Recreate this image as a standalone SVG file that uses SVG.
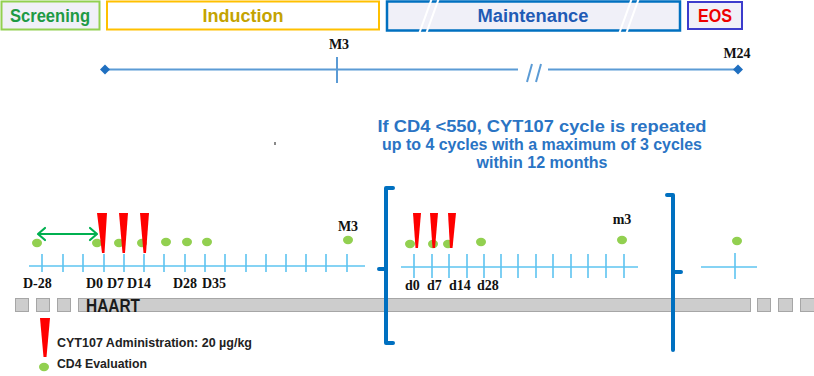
<svg xmlns="http://www.w3.org/2000/svg" width="814" height="376" viewBox="0 0 814 376">
<style>
.hdr{font-family:"Liberation Sans",Arial,sans-serif;font-weight:bold;font-size:17.5px;text-anchor:middle}
.lbl{font-family:"Liberation Serif","Times New Roman",serif;font-weight:bold;font-size:14px;fill:#111}
.tl{stroke:#5ec4f0;stroke-width:1.6;fill:none}
.top{stroke:#5b9bd5;stroke-width:2;fill:none}
.dot{fill:#92d050}
.mark{fill:#ff0000}
.brk{stroke:#0070c0;stroke-width:4;fill:none;stroke-linejoin:round;stroke-linecap:round}
.blue{font-family:"Liberation Sans",Arial,sans-serif;font-weight:bold;font-size:16.5px;fill:#2a74c4;text-anchor:middle}
.leg{font-family:"Liberation Sans",Arial,sans-serif;font-weight:bold;font-size:12px;fill:#222}
.bar{fill:#cdcdcd;stroke:#a6a6a6;stroke-width:1}
</style>
<rect width="814" height="376" fill="#ffffff"/>

<g id="phase-screening">
<rect x="1.5" y="1.5" width="98" height="28" fill="#f0f0f8" stroke="#92d050" stroke-width="2"/>
<text class="hdr" x="50" y="22" fill="#1e9a45" textLength="80" lengthAdjust="spacingAndGlyphs">Screening</text>
</g>
<g id="phase-induction">
<rect x="107" y="1.5" width="272" height="28" fill="#ffffff" stroke="#ffc000" stroke-width="2"/>
<text class="hdr" x="243" y="22" fill="#c4a300" textLength="81" lengthAdjust="spacingAndGlyphs">Induction</text>
</g>
<g id="phase-maintenance">
<rect x="387" y="1.5" width="293" height="29" fill="#f0f0f8" stroke="#0070c0" stroke-width="2.5"/>
<g stroke="#ffffff" stroke-width="2">
<line x1="432" y1="-2" x2="419" y2="34"/><line x1="439" y1="-2" x2="426" y2="34"/>
<line x1="632" y1="-2" x2="619" y2="34"/><line x1="639" y1="-2" x2="626" y2="34"/>
</g>
<text class="hdr" x="533" y="22" fill="#1f5bb5" textLength="111" lengthAdjust="spacingAndGlyphs">Maintenance</text>
</g>
<g id="phase-eos">
<rect x="688" y="2" width="54" height="27" fill="#f0f0f8" stroke="#3c3ccc" stroke-width="2"/>
<text class="hdr" x="715" y="22" fill="#ee0000" textLength="34" lengthAdjust="spacingAndGlyphs">EOS</text>
</g>

<g id="top-timeline">
<line class="top" x1="105" y1="69.5" x2="518" y2="69.5"/>
<line class="top" x1="548" y1="69.5" x2="738" y2="69.5"/>
<line class="top" x1="337" y1="57" x2="337" y2="83" stroke-width="1.6"/>
<line class="top" x1="532" y1="64" x2="527" y2="82" stroke-width="1.6"/>
<line class="top" x1="541" y1="64" x2="536" y2="82" stroke-width="1.6"/>
<path d="M105,64.5 L110,69.5 L105,74.5 L100,69.5 Z" fill="#1f6fc0"/>
<path d="M738,64.5 L743,69.5 L738,74.5 L733,69.5 Z" fill="#1f6fc0"/>
<text class="lbl" x="339" y="49" text-anchor="middle" font-size="13">M3</text>
<text class="lbl" x="737" y="58" text-anchor="middle" font-size="13">M24</text>
</g>

<rect x="274" y="142" width="2" height="3" fill="#8a8a8a"/>

<g id="repeat-note">
<text class="blue" x="542" y="132" textLength="329" lengthAdjust="spacingAndGlyphs">If CD4 &lt;550, CYT107 cycle is repeated</text>
<text class="blue" x="542" y="150" textLength="320" lengthAdjust="spacingAndGlyphs">up to 4 cycles with a maximum of 3 cycles</text>
<text class="blue" x="542" y="168" textLength="131" lengthAdjust="spacingAndGlyphs">within 12 months</text>
</g>

<g id="cycle1-timeline">
<line class="tl" x1="29" y1="266" x2="365" y2="266"/>
<path class="tl" d="M42,254V272M63,254V272M83,254V272M104,254V272M124,254V272M144,254V272M164,254V272M185,254V272M205,254V272M225,254V272M246,254V272M266,254V272M286,254V272M306,254V272M326,254V272M347,254V272"/>
<text class="lbl" x="23" y="288">D-28</text>
<text class="lbl" x="86" y="288">D0</text>
<text class="lbl" x="107" y="288">D7</text>
<text class="lbl" x="127" y="288">D14</text>
<text class="lbl" x="173" y="288">D28</text>
<text class="lbl" x="202" y="288">D35</text>
<text class="lbl" x="348" y="231" text-anchor="middle">M3</text>
</g>

<g id="cycle1-cd4">
<ellipse class="dot" cx="37" cy="243" rx="5" ry="4.2"/>
<ellipse class="dot" cx="97" cy="243" rx="5" ry="4.2"/>
<ellipse class="dot" cx="119" cy="243" rx="5" ry="4.2"/>
<ellipse class="dot" cx="142" cy="243" rx="5" ry="4.2"/>
<ellipse class="dot" cx="166" cy="242" rx="5" ry="4.2"/>
<ellipse class="dot" cx="187" cy="242" rx="5" ry="4.2"/>
<ellipse class="dot" cx="207" cy="242" rx="5" ry="4.2"/>
<ellipse class="dot" cx="348" cy="240" rx="5" ry="4.2"/>
</g>

<g id="cycle1-admin">
<polygon class="mark" points="97,213 107,213 104.5,253 102,253"/>
<polygon class="mark" points="119,213 128,213 125,253 122.5,253"/>
<polygon class="mark" points="140,213 149,213 146,253 143.5,253"/>
</g>

<g id="connectors">
<line x1="39" y1="234" x2="96" y2="234" stroke="#00b050" stroke-width="2.2"/>
<path d="M45,228 L38,234 L45,240 M90,228 L97,234 L90,240" fill="none" stroke="#00b050" stroke-width="2.2" stroke-linecap="round" stroke-linejoin="round"/>
</g>

<g id="haart">
<rect class="bar" x="15.5" y="298.5" width="13" height="13"/>
<rect class="bar" x="36.5" y="298.5" width="13" height="13"/>
<rect class="bar" x="57.5" y="298.5" width="13" height="13"/>
<rect class="bar" x="78.5" y="298.5" width="672" height="13"/>
<rect class="bar" x="757.5" y="298.5" width="13" height="13"/>
<rect class="bar" x="778.5" y="298.5" width="14" height="13"/>
<rect class="bar" x="800.5" y="298.5" width="16" height="13"/>
<text x="86" y="312" font-family="'Liberation Sans',Arial,sans-serif" font-weight="bold" font-size="17.5" fill="#1a1a1a" textLength="54" lengthAdjust="spacingAndGlyphs">HAART</text>
</g>

<g id="cycle-bracket">
<path class="brk" d="M393,188 H386 V343 H393 M386,269 H379"/>
<path class="brk" d="M667,195 H673 V350 M673,272 H681"/>
</g>

<g id="cycle2-timeline">
<line class="tl" x1="401" y1="267" x2="638" y2="267"/>
<path class="tl" d="M414,254V278M432,254V278M449,254V278M467,254V278M484,254V278M501,254V278M518,254V278M536,254V278M553,254V278M571,254V278M588,254V278M606,254V278M624,254V278"/>
<text class="lbl" x="405" y="290">d0</text>
<text class="lbl" x="427" y="290">d7</text>
<text class="lbl" x="449" y="290">d14</text>
<text class="lbl" x="477" y="290">d28</text>
<text class="lbl" x="622" y="224" text-anchor="middle">m3</text>
</g>

<g id="cycle2-cd4">
<ellipse class="dot" cx="410" cy="244" rx="5" ry="4.2"/>
<ellipse class="dot" cx="433" cy="244" rx="5" ry="4.2"/>
<ellipse class="dot" cx="448" cy="244" rx="5" ry="4.2"/>
<ellipse class="dot" cx="481" cy="242" rx="5" ry="4.2"/>
<ellipse class="dot" cx="622" cy="240" rx="5" ry="4.2"/>
</g>

<g id="cycle2-admin">
<polygon class="mark" points="413,213 421,213 418,248 415.5,248"/>
<polygon class="mark" points="430,213 438,213 435,248 432.5,248"/>
<polygon class="mark" points="448,213 456,213 452.5,248 450,248"/>
</g>

<g id="after-timeline">
<line class="tl" x1="701" y1="267" x2="757" y2="267"/>
<line class="tl" x1="735" y1="253" x2="735" y2="279"/>
<ellipse class="dot" cx="737" cy="241" rx="5" ry="4.2"/>
</g>

<g id="legend">
<polygon class="mark" points="40,318 50,318 46.5,357 43.5,357"/>
<ellipse class="dot" cx="44" cy="367" rx="5" ry="4.2"/>
<text class="leg" x="57" y="347" textLength="195" lengthAdjust="spacingAndGlyphs">CYT107 Administration: 20 µg/kg</text>
<text class="leg" x="57" y="368" textLength="90" lengthAdjust="spacingAndGlyphs">CD4 Evaluation</text>
</g>
</svg>
